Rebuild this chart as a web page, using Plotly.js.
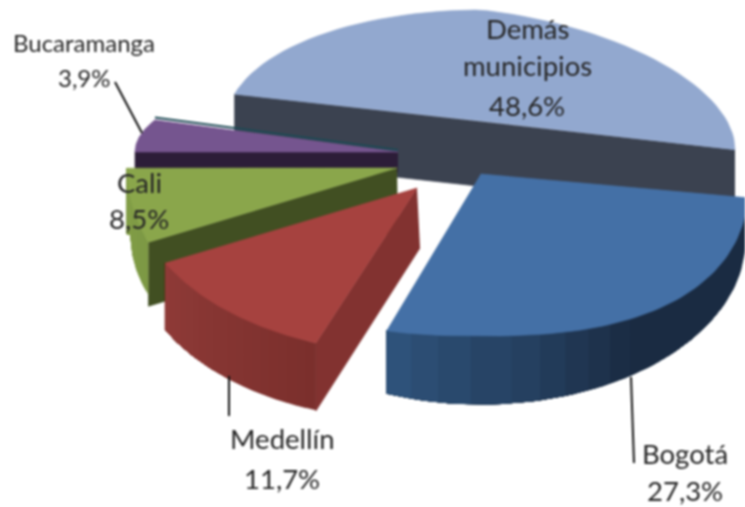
<!DOCTYPE html>
<html><head><meta charset="utf-8">
<script src="https://cdn.plot.ly/plotly-3.0.1.min.js"></script>
<style>html,body{margin:0;padding:0;background:#fff;overflow:hidden}#chart{width:745px;height:507px;filter:blur(0.8px)}</style>
</head><body><div id="chart"></div>
<script>
// ---- data ----
const categories = ['Demás\nmunicipios', 'Bogotá', 'Medellín', 'Cali', 'Bucaramanga'];
const shares = [48.6, 27.3, 11.7, 8.5, 3.9];

// ---- look of the pseudo-3D projection (per category, not data) ----
const G = {
  'Demás\nmunicipios': {cx:481,cy:121,a:254,b:111,n:2,start:194,scale:.9486,shearR:.113,top:'#92a8cf',
     cut:{c:'#3b4250',apex:[0,65],corner:[0,65],useEnds:true},labelX:527,labelY:[28,65,105],size:27.5},
  'Bogotá': {cx:481,cy:174,a:268,b:162,n:2.45,start:5.5,scale:1.024,top:'#4470a6',
     wall:{cy:240,a:264,b:164,c0:[47,84,125],c1:[26,43,66],k:.45},labelX:685,labelY:[453,490],size:27.5},
  'Medellín': {cx:417,cy:188,a:282,b:166,n:2,start:111,scale:1,top:'#a6423f',
     cut:{c:'#823230',apex:[3,60],corner:[0,68],atStart:true},
     wall:{cy:255,a:282,b:166,c0:[143,58,55],c1:[122,47,44],k:1},labelX:282,labelY:[438,478],size:27.5},
  'Cali': {cx:397,cy:168,a:270,b:190,n:2,start:157,scale:.75,top:'#8aa64b',
     cut:{c:'#414f22',apex:[1,63],corner:[0,64],atStart:true},
     wall:{cy:234,a:266,b:170,c0:[132,160,72],c1:[124,152,68],k:1},labelX:139,labelY:[182,218],size:27.5},
  'Bucaramanga': {cx:398,cy:152,a:263,b:84,n:2,start:180,scale:1.6,top:'#75558f',
     cut:{c:'#2c1d38',apex:[0,20],corner:[0,20],atStart:true},edge:'#1d4a55',labelX:84,labelY:[42,77],size:24}
};
const drawOrder = ['Demás\nmunicipios','Bucaramanga','Cali','Medellín','Bogotá'];
const leaders = [[115,82,142,133],[229,376,229,416],[631,377,634,463]];

const rad = d => d*Math.PI/180;
const spow = (v,p) => Math.sign(v)*Math.pow(Math.abs(v),p);
function arcPoint(g,deg){
  const t = rad(deg), e = 2/g.n;
  const dx = g.a*spow(Math.cos(t),e);
  const dy = g.b*spow(Math.sin(t),e);
  return [g.cx+dx, g.cy+dy+(g.shearR||0)*Math.max(dx,0)];
}
function poly(xs,ys,color){
  return {type:'scatter',mode:'lines',x:xs,y:ys,fill:'toself',fillcolor:color,
    line:{color:color,width:.6},hoverinfo:'skip',showlegend:false};
}
const mix=(a,b,f)=>`rgb(${a.map((v,i)=>Math.round(v+(b[i]-v)*f)).join(',')})`;

const traces = [];
drawOrder.forEach(name=>{
  const i = categories.indexOf(name), g = G[name];
  const sweep = shares[i]*3.6*g.scale;
  const N = 60, BAND = 3, arc = [];
  for(let k=0;k<=N;k++) arc.push(arcPoint(g,g.start+sweep*k/N));
  const first = arc[0], last = arc[N];
  if(g.cut){
    const c = g.cut;
    if(c.useEnds){
      traces.push(poly([last[0],first[0],first[0]+c.corner[0],last[0]],
        [last[1],first[1],first[1]+c.corner[1],last[1]+c.apex[1]],c.c));
    } else {
      const Q = first;
      traces.push(poly([g.cx,Q[0],Q[0]+c.corner[0],g.cx+c.apex[0]],
        [g.cy,Q[1],Q[1]+c.corner[1],g.cy+c.apex[1]],c.c));
    }
  }
  if(g.wall){
    const w = g.wall;
    const low = x=>{const u=Math.min(1,Math.abs(x-g.cx)/w.a);return w.cy+w.b*Math.sqrt(1-u*u);};
    // painted from the far end back, each band running on to the end so no seam shows
    for(let k=0;k<N;k+=BAND){
      const seg = arc.slice(k,N+1);
      const u = 1-(k+BAND/2)/N;
      traces.push(poly(
        [...seg.map(p=>p[0]),...seg.slice().reverse().map(p=>p[0])],
        [...seg.map(p=>p[1]),...seg.slice().reverse().map(p=>low(p[0]))],
        mix(w.c0,w.c1,Math.min(1,u/w.k))));
    }
  }
  if(g.edge){
    traces.push({type:'scatter',mode:'lines',x:[last[0],g.cx],y:[last[1]-2.5,g.cy-2],
      line:{color:g.edge,width:2},hoverinfo:'skip',showlegend:false});
  }
  traces.push(poly([g.cx,...arc.map(p=>p[0]),g.cx],[g.cy,...arc.map(p=>p[1]),g.cy],g.top));
});

const annotations = [];
categories.forEach((name,i)=>{
  const g = G[name];
  const lines = name.split('\n').concat([shares[i].toFixed(1).replace('.',',')+'%']);
  lines.forEach((text,j)=>annotations.push({
    text, x:g.labelX, y:g.labelY[j], xref:'x', yref:'y', showarrow:false,
    xanchor:'center', yanchor:'middle',
    font:{family:'Lato, sans-serif',size:g.size,color:'#262626'}
  }));
});
const shapes = leaders.map(l=>({type:'line',xref:'x',yref:'y',x0:l[0],y0:l[1],x1:l[2],y1:l[3],
  line:{color:'#111',width:2}}));

Plotly.newPlot('chart',traces,{
  width:745,height:507,margin:{l:0,r:0,t:0,b:0},
  paper_bgcolor:'#fff',plot_bgcolor:'#fff',showlegend:false,
  xaxis:{range:[0,745],visible:false,fixedrange:true},
  yaxis:{range:[507,0],visible:false,fixedrange:true},
  annotations,shapes
},{displayModeBar:false,staticPlot:true});
</script></body></html>
